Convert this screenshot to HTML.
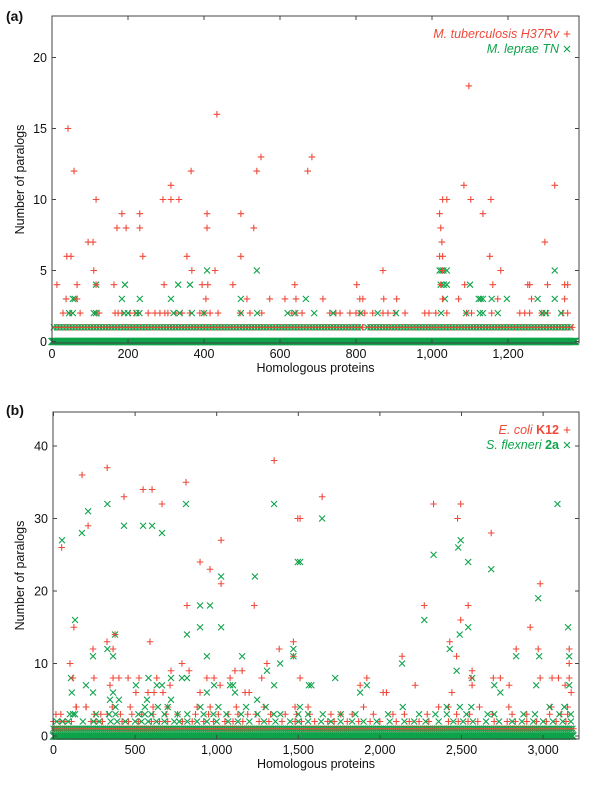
<!DOCTYPE html>
<html><head><meta charset="utf-8"><style>
html,body{margin:0;padding:0;background:#fff;}
svg{display:block;font-family:"Liberation Sans",Arial,sans-serif;}
</style></head><body>
<svg id="chart" width="600" height="786" viewBox="0 0 600 786" xmlns="http://www.w3.org/2000/svg">
<g id="panelA"></g>
<g id="panelB"></g>
</svg>
<script>
// ---------- Panel (a) data ----------
const aXTicks = [0,200,400,600,800,1000,1200];
const aXTickLabels = ["0","200","400","600","800","1,000","1,200"];
const aYTicks = [0,5,10,15,20];
const aRedX = [42,58,39,50,13,66,37,66,95,108,110,116,116,163,171,184,195,231,231,239,292,313,313,334,295,355,366,368,395,408,408,410,405,429,434,476,497,497,513,531,539,550,573,613,639,642,
 1097,684,673,1084,1028,1039,1102,1155,1020,1134,1023,1026,1297,1020,1028,1152,1323,871,1181,802,1086,1160,1252,1257,1304,1349,1357,713,810,818,873,907,1028,1070,1173,1262,1349,1023,1028];
const aRedY = [15,12,6,6,4,4,3,3,7,7,5,10,4,4,8,9,8,9,8,6,10,11,10,10,4,6,12,5,4,9,8,4,3,5,16,4,9,6,3,8,12,13,3,3,4,3,
 18,13,12,11,10,10,10,10,9,9,8,7,7,6,6,6,11,5,5,4,4,4,4,4,4,4,4,3,3,3,3,3,3,3,3,3,3,4,5];
const aGreenX = [408,539,116,192,332,363,55,184,231,313,497,1020,1025,1030,1039,1323,1023,1031,1039,1100,668,1034,1123,1128,1134,1157,1197,1278,1323,60];
const aGreenY = [5,5,4,4,4,4,3,3,3,3,3,5,5,5,5,5,4,4,4,4,3,3,3,3,3,3,3,3,3,3];
const aRedRow2 = [29,47,74,118,124,166,174,184,205,218,226,253,271,284,297,305,326,342,363,389,400,416,437,495,521,552,631,642,658,731,747,758,784,800,810,823,844,871,884,902,929,981,992,1010,1039,1091,1104,1157,1231,1244,1257,1289,1304,1344,1357];
const aGreenRow2 = [45,55,110,116,190,200,222,230,320,336,368,400,497,540,620,640,690,740,812,857,905,1024,1090,1126,1134,1173,1290,1300,1340];
const aRow1Runs = [[5,820],[830,1000],[1005,1370]];
const aRow0Runs = [[0,1378]];

// ---------- Panel (b) data ----------
const bXTicks = [0,500,1000,1500,2000,2500,3000];
const bXTickLabels = ["0","500","1,000","1,500","2,000","2,500","3,000"];
const bYTicks = [0,10,20,30,40];
const bRedX = [50,175,212,329,432,549,604,665,812,898,959,1027,1027,1230,1352,818,15,101,119,125,138,199,242,248,328,346,365,377,365,401,457,524,505,579,591,616,633,671,720,714,787,831,898,940,984,1021,1082,1112,1156,1174,1199,1276,1308,1383,1470,1470,1497,
 1646,1511,2329,2495,2476,2682,2541,2272,2495,2428,2470,2136,2565,2982,2921,2835,2970,3160,2982,3160,3172,1879,3160,2216,2020,2040,1920,1511,2695,2738,2792,2441,2559,2565,3055,3094,3135];
const bRedY = [26,36,29,37,33,34,34,32,35,24,23,27,21,18,38,18,3,10,8,15,4,4,12,8,13,7,12,14,8,8,8,8,6,6,13,6,8,6,9,7,10,9,6,8,8,7,8,9,9,6,6,8,10,12,13,11,30,
 33,30,32,32,30,28,18,18,16,13,11,11,9,21,15,12,12,12,8,8,6,7,10,7,6,6,8,8,8,8,7,6,8,7,8,8,7];
const bGreenX = [52,112,107,132,132,174,212,199,242,242,330,330,346,365,377,365,401,432,549,604,665,505,573,582,633,665,720,720,787,818,818,812,898,898,940,940,959,984,1027,1027,1082,1100,1112,1156,1234,1248,1308,1352,1352,1389,1470,1470,1497,
 1646,1511,2329,2480,2495,2541,2682,3088,2272,2489,2541,2428,2470,2136,1726,2970,3153,3160,2976,2835,2565,3160,2958,2738,2701,1879,1920,1565,1580];
const bGreenY = [27,6,8,16,3,28,31,7,11,6,12,32,5,11,14,6,5,29,29,29,28,7,5,8,7,7,8,5,8,14,8,32,18,15,11,6,18,7,22,15,7,7,6,11,22,5,9,32,7,10,12,11,24,
 30,24,25,26,27,24,23,32,16,14,15,12,9,10,8,19,15,11,11,11,8,7,7,6,7,6,7,7,7];
const bRedRow2 = [0,40,70,110,230,260,300,420,460,520,600,650,700,790,850,920,980,1050,1100,1160,1260,1320,1400,1480,1520,1600,1680,1720,1800,1870,1940,2000,2100,2180,2240,2300,2420,2480,2540,2600,2700,2780,2830,2900,2960,3020,3080,3140];
const bGreenRow2 = [20,55,90,180,245,280,350,390,440,500,540,580,630,680,740,770,820,880,940,1000,1070,1130,1200,1290,1360,1450,1500,1560,1640,1700,1760,1830,1900,1980,2060,2150,2210,2280,2360,2450,2510,2570,2650,2730,2810,2870,2940,3000,3060,3120,3170];
const bRedRow3 = [45,250,290,330,410,480,540,610,690,760,870,950,1010,1070,1130,1190,1240,1330,1420,1490,1570,1700,1760,1830,1960,2080,2150,2290,2470,2550,2690,2810,2900,3040,3110,3150];
const bGreenRow3 = [100,120,260,340,380,520,560,600,680,760,820,920,980,1060,1150,1250,1350,1390,1500,1560,1650,1760,1850,2050,2240,2340,2410,2530,2660,2700,2880,2950,3100,3170];
const bRedRow4 = [140,200,360,470,610,700,880,960,1120,1290,1480,1560,1900,2360,2420,2610,2790,3050,3150];
const bGreenRow4 = [380,560,640,700,900,1010,1180,1300,1510,2140,2410,2490,2560,3040,3130];
const bRow1Runs = [[0,3185]];
const bRow0Runs = [[0,3185]];

const NS = "http://www.w3.org/2000/svg";
const RED = "#ef4a3a", GREEN = "#0fa34b";
function mk(tag, attrs, parent){
  const e = document.createElementNS(NS, tag);
  for (const k in attrs) e.setAttribute(k, attrs[k]);
  parent.appendChild(e);
  return e;
}
function plus(g, x, y, s){
  const p = mk("path", {d:`M${x-s},${y}H${x+s}M${x},${y-s}V${y+s}`, stroke:RED, "stroke-width":1.1, fill:"none"}, g);
  
  
}
function cross(g, x, y, s){
  const p = mk("path", {d:`M${x-s},${y-s}L${x+s},${y+s}M${x-s},${y+s}L${x+s},${y-s}`, stroke:GREEN, "stroke-width":1.1, fill:"none"}, g);
  
  
}

function panel(cfg){
  const g = document.getElementById(cfg.id);
  const L=cfg.left, R=cfg.right, T=cfg.top, B=cfg.bottom;
  const sx = v => cfg.x0 + v*cfg.kx;
  const sy = v => cfg.y0 - v*cfg.ky;
  const lab = mk("text", {x:6, y:cfg.labelY, "font-size":14, "font-weight":"bold", fill:"#111"}, g);
  lab.textContent = cfg.label;
  
  
  const pts = mk("g", {}, g);
  
  
  // row 0 band
  cfg.row0.forEach(r => { for (let v=r[0]; v<=r[1]; v+=cfg.step0) cross(pts, sx(v), sy(0), 3.5); });
  // row 1 mixed
  cfg.row1.forEach(r => { for (let v=r[0]; v<=r[1]; v+=cfg.step1){ cross(pts, sx(v), sy(1), 3); plus(pts, sx(v+cfg.step1/2), sy(1), 3.2);} });
  cfg.rows.forEach(row => row.xs.forEach(v => row.red ? plus(pts, sx(v), sy(row.y), 3.3) : cross(pts, sx(v), sy(row.y), 3)));
  cfg.gx.forEach((v,i) => cross(pts, sx(v), sy(cfg.gy[i]), 3));
  cfg.rx.forEach((v,i) => plus(pts, sx(v), sy(cfg.ry[i]), 3.3));
  // frame
  const fr = mk("rect", {x:L, y:T, width:R-L, height:B-T, fill:"none", stroke:"#444", "stroke-width":1}, g);
  
  
  cfg.xt.forEach((v,i) => {
    const x = sx(v);
    mk("path", {d:`M${x},${T}v4M${x},${B}v-4`, stroke:"#444"}, g);
    const t = mk("text", {x:x, y:B+15, "font-size":12.5, "text-anchor":"middle", fill:"#111"}, g);
    t.textContent = cfg.xtl[i];
    
    
  });
  cfg.yt.forEach(v => {
    const y = sy(v);
    mk("path", {d:`M${L},${y}h4M${R},${y}h-4`, stroke:"#444"}, g);
    const t = mk("text", {x:L-5, y:y+4.5, "font-size":12.5, "text-anchor":"end", fill:"#111"}, g);
    t.textContent = String(v);
    
    
  });
  const xt = mk("text", {x:(L+R)/2, y:B+29, "font-size":12.5, "text-anchor":"middle", fill:"#111"}, g);
  xt.textContent = "Homologous proteins";
  
  
  const yc = (T+B)/2;
  const yt = mk("text", {x:24, y:yc, "font-size":12.5, "text-anchor":"middle", fill:"#111", transform:`rotate(-90 24 ${yc})`}, g);
  yt.textContent = "Number of paralogs";
  
  
  // legend
  const lg = mk("g", {}, g);
  
  
  cfg.legend.forEach((le, i) => {
    const y = T + 22 + i*15;
    const t = mk("text", {x:R-20, y:y, "font-size":12.5, "text-anchor":"end", fill:le.red?RED:GREEN}, lg);
    
    
    const a = mk("tspan", {"font-style":"italic"}, t); a.textContent = le.name + "  ";
    const b = mk("tspan", le.bold?{"font-weight":"bold"}:{"font-style":"italic"}, t); b.textContent = le.strain;
    if (le.red) plus(lg, R-12, y-4, 3.3); else cross(lg, R-12, y-4, 3);
  });
}

panel({id:"panelA", label:"(a)", labelY:21, left:52, right:579, top:16, bottom:343,
  x0:52, kx:0.38, y0:341.5, ky:14.2,
  xt:aXTicks, xtl:aXTickLabels, yt:aYTicks,
  rx:aRedX, ry:aRedY, gx:aGreenX, gy:aGreenY,
  rows:[{xs:aRedRow2, y:2, red:true},{xs:aGreenRow2, y:2, red:false}],
  row0:aRow0Runs, row1:aRow1Runs, step0:1.5, step1:8,
  legend:[{name:"M. tuberculosis", strain:"H37Rv", red:true},{name:"M. leprae", strain:"TN", red:false}]});

panel({id:"panelB", label:"(b)", labelY:415, left:53, right:579, top:412, bottom:739,
  x0:53.5, kx:0.1632, y0:736, ky:7.25,
  xt:bXTicks, xtl:bXTickLabels, yt:bYTicks,
  rx:bRedX, ry:bRedY, gx:bGreenX, gy:bGreenY,
  rows:[{xs:bRedRow2, y:2, red:true},{xs:bGreenRow2, y:2, red:false},{xs:bRedRow3, y:3, red:true},{xs:bGreenRow3, y:3, red:false},{xs:bRedRow4, y:4, red:true},{xs:bGreenRow4, y:4, red:false}],
  row0:bRow0Runs, row1:bRow1Runs, step0:3, step1:12,
  legend:[{name:"E. coli", strain:"K12", red:true, bold:true},{name:"S. flexneri", strain:"2a", red:false, bold:true}]});
</script>
</body></html>
